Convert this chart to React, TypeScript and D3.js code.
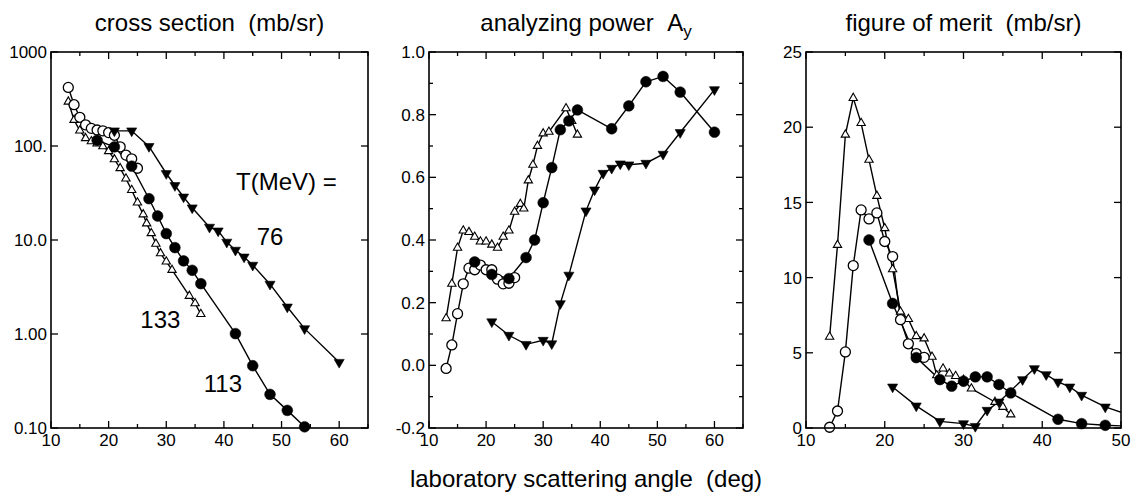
import React from 'react';
import * as d3 from 'd3';

// ---------- data ----------
// 133 MeV (open triangles)
const deg133 = [13, 14, 15, 16, 17, 18, 19, 20, 21, 22, 23, 24, 25, 26, 26.6, 27.4, 28.2, 29, 30, 31, 34, 35, 36];
const xs133 = [296, 189, 146, 121, 112, 106, 99, 88, 72, 58, 45, 34, 25, 18.7, 15, 11.8, 9.1, 7.2, 5.9, 4.8, 2.54, 2.12, 1.63];
const ay133 = [0.15, 0.26, 0.375, 0.43, 0.425, 0.41, 0.395, 0.395, 0.385, 0.375, 0.41, 0.43, 0.49, 0.515, 0.5, 0.59, 0.64, 0.7, 0.74, 0.745, 0.82, 0.78, 0.736];
const fom133 = [6.06, 12.17, 19.5, 21.94, 20.27, 17.83, 15.43, 13.28, 10.55, 7.73, 7.24, 6.1, 5.95, 4.73, 3.5, 3.95, 3.62, 3.45, 3.2, 2.62, 1.73, 1.4, 0.9];

// open circles
const degOC = [13, 14, 15, 16, 17, 18, 19, 20, 21, 22, 23, 24, 25];
const xsOC = [420, 275, 202, 168, 154, 148, 145, 139, 130, 98, 80, 73, 58];
const ayOC = [-0.01, 0.065, 0.165, 0.26, 0.31, 0.305, 0.32, 0.305, 0.305, 0.275, 0.26, 0.262, 0.28];
const fomOC = [0.05, 1.13, 5.06, 10.8, 14.5, 13.9, 14.3, 12.4, 11.4, 7.2, 5.6, 4.95, 4.7];

// 113 MeV (filled circles)
const deg113xs = [18, 21, 24, 27, 28.5, 30, 31.5, 33, 34.5, 36, 42, 45, 48, 51, 54];
const xs113 = [115, 98, 61, 27.5, 18, 11.7, 8.3, 6.0, 4.76, 3.43, 1.01, 0.46, 0.228, 0.154, 0.103];
const deg113ay = [18, 21, 24, 27, 28.5, 30, 31.5, 33, 34.5, 36, 42, 45, 48, 51, 54, 60];
const ay113 = [0.33, 0.29, 0.277, 0.344, 0.4, 0.519, 0.631, 0.752, 0.78, 0.815, 0.755, 0.828, 0.905, 0.922, 0.872, 0.744];
const deg113fom = [18, 21, 24, 27, 28.5, 30, 31.5, 33, 34.5, 36, 42, 45, 48, 51];
const fom113 = [12.5, 8.28, 4.68, 3.22, 2.78, 3.11, 3.4, 3.4, 2.89, 2.33, 0.58, 0.29, 0.18, 0.12];

// 76 MeV (filled down triangles)
const deg76 = [21, 24, 27, 30, 31.5, 33, 34.5, 37.5, 39, 40.5, 42, 43.5, 45, 48, 51, 54, 60];
const xs76 = [145, 145, 99, 51, 38, 28.7, 22, 13.7, 12.5, 9.5, 7.8, 6.6, 5.4, 3.39, 1.94, 1.14, 0.5];
const ay76 = [0.139, 0.096, 0.067, 0.08, 0.069, 0.197, 0.288, 0.493, 0.56, 0.613, 0.629, 0.643, 0.64, 0.645, 0.674, 0.743, 0.88];
const deg76fom = [21, 24, 27, 30, 31.5, 33, 34.5, 37.5, 39, 40.5, 42, 43.5, 45, 48, 51];
const fom76 = [2.73, 1.47, 0.44, 0.29, 0.11, 1.18, 1.73, 3.22, 3.95, 3.55, 3.06, 2.73, 2.18, 1.4, 0.88];

// ticks
const xTicksWide = [10, 15, 20, 25, 30, 35, 40, 45, 50, 55, 60, 65];
const xLabelsWide = [10, 20, 30, 40, 50, 60];
const xTicksFom = [10, 15, 20, 25, 30, 35, 40, 45, 50];
const xLabelsFom = [10, 20, 30, 40, 50];
const csTicks = [0.1, 1, 10, 100, 1000];
const csLabels = ['0.10', '1.00', '10.0', '100.', '1000'];
const apTicks = [-0.2, -0.1, 0, 0.1, 0.2, 0.3, 0.4, 0.5, 0.6, 0.7, 0.8, 0.9, 1.0];
const apLabelVals = [-0.2, 0, 0.2, 0.4, 0.6, 0.8, 1.0];
const apLabels = ['-0.2', '0.0', '0.2', '0.4', '0.6', '0.8', '1.0'];
const fomTicks = [0, 5, 10, 15, 20, 25];
const fomLabels = ['0', '5', '10', '15', '20', '25'];

const FONT = '"Liberation Sans", Arial, Helvetica, sans-serif';

type MarkerKind = 'tri' | 'ocirc' | 'fcirc' | 'dtri';
type Series = { x: number[]; y: number[]; marker: MarkerKind };

function Marker({ kind, cx, cy }: { kind: MarkerKind; cx: number; cy: number }) {
  if (kind === 'ocirc') return <circle cx={cx} cy={cy} r={5} fill="#fff" stroke="#000" strokeWidth={1.3} />;
  if (kind === 'fcirc') return <circle cx={cx} cy={cy} r={5.4} fill="#000" stroke="#000" strokeWidth={0.5} />;
  if (kind === 'tri') {
    const p = d3.symbol().type(d3.symbolTriangle).size(30)()!;
    return <path d={p} transform={`translate(${cx},${cy})`} fill="#fff" stroke="#000" strokeWidth={1.1} />;
  }
  const p = d3.symbol().type(d3.symbolTriangle).size(44)()!;
  return <path d={p} transform={`translate(${cx},${cy}) rotate(180)`} fill="#000" stroke="#000" strokeWidth={0.6} />;
}

type PanelProps = {
  id: string;
  left: number; right: number; top: number; bottom: number;
  xDomain: [number, number];
  xTicks: number[]; xLabels: number[];
  yScale: any;
  yTicks: number[]; yMinor?: number[];
  yLabelVals: number[]; yLabels: string[];
  series: Series[];
  title: React.ReactNode;
};

function Panel(p: PanelProps) {
  const x = d3.scaleLinear().domain(p.xDomain).range([p.left, p.right]);
  const y = p.yScale;
  const line = d3.line<[number, number]>().x(d => x(d[0])).y(d => y(d[1]));
  const tickMajor = 7, tickMinor = 4;
  const [x0, x1] = p.xDomain;
  return (
    <g>
      <defs>
        <clipPath id={p.id}>
          <rect x={p.left} y={p.top} width={p.right - p.left} height={p.bottom - p.top} />
        </clipPath>
      </defs>
      <text x={(p.left + p.right) / 2} y={31} textAnchor="middle" fontSize={24} fontFamily={FONT}>{p.title}</text>
      {p.xTicks.map(t => {
        const len = t % 10 === 0 ? tickMajor : tickMinor;
        const xx = x(t);
        return (
          <g key={'xt' + t}>
            <line x1={xx} x2={xx} y1={p.bottom} y2={p.bottom - len} stroke="#000" strokeWidth={1.3} />
            <line x1={xx} x2={xx} y1={p.top} y2={p.top + len} stroke="#000" strokeWidth={1.3} />
          </g>
        );
      })}
      {p.xLabels.map(t => (
        <text key={'xl' + t} x={x(t)} y={446} textAnchor="middle" fontSize={17} fontFamily={FONT}>{t}</text>
      ))}
      {p.yTicks.map(t => (
        <g key={'yt' + t}>
          <line x1={p.left} x2={p.left + tickMajor} y1={y(t)} y2={y(t)} stroke="#000" strokeWidth={1.3} />
          <line x1={p.right} x2={p.right - tickMajor} y1={y(t)} y2={y(t)} stroke="#000" strokeWidth={1.3} />
        </g>
      ))}
      {(p.yMinor || []).map(t => (
        <g key={'ym' + t}>
          <line x1={p.left} x2={p.left + tickMinor} y1={y(t)} y2={y(t)} stroke="#000" strokeWidth={1.3} />
          <line x1={p.right} x2={p.right - tickMinor} y1={y(t)} y2={y(t)} stroke="#000" strokeWidth={1.3} />
        </g>
      ))}
      {p.yLabelVals.map((t, i) => (
        <text key={'yl' + t} x={p.left - 4} y={y(t)} dy="0.36em" textAnchor="end" fontSize={17} fontFamily={FONT}>{p.yLabels[i]}</text>
      ))}
      <g clipPath={`url(#${p.id})`}>
        {p.series.map((s, i) => (
          <path key={'l' + i} d={line(s.x.map((v, j) => [v, s.y[j]] as [number, number])) || ''} fill="none" stroke="#000" strokeWidth={1.4} />
        ))}
      </g>
      {p.series.map((s, i) => (
        <g key={'m' + i}>
          {s.x.map((v, j) => (v >= x0 && v <= x1 ? <Marker key={j} kind={s.marker} cx={x(v)} cy={y(s.y[j])} /> : null))}
        </g>
      ))}
      <rect x={p.left} y={p.top} width={p.right - p.left} height={p.bottom - p.top} fill="none" stroke="#000" strokeWidth={1.6} />
    </g>
  );
}

export default function App() {
  const top = 52, bottom = 428;
  const csScale = d3.scaleLog().domain([0.1, 1000]).range([bottom, top]);
  const apScale = d3.scaleLinear().domain([-0.2, 1.0]).range([bottom, top]);
  const fomScale = d3.scaleLinear().domain([0, 25]).range([bottom, top]);
  const csX = d3.scaleLinear().domain([10, 65]).range([51, 368]);

  return (
    <svg width={1132} height={498} style={{ position: 'absolute', left: 0, top: 0, background: '#fff' }}>
      <rect x={0} y={0} width={1132} height={498} fill="#fff" />
      <Panel
        id="c1" left={51} right={368} top={top} bottom={bottom}
        xDomain={[10, 65]} xTicks={xTicksWide} xLabels={xLabelsWide}
        yScale={csScale} yTicks={csTicks} yLabelVals={csTicks} yLabels={csLabels}
        series={[
          { x: deg133, y: xs133, marker: 'tri' },
          { x: degOC, y: xsOC, marker: 'ocirc' },
          { x: deg113xs, y: xs113, marker: 'fcirc' },
          { x: deg76, y: xs76, marker: 'dtri' },
        ]}
        title={'cross section\u00a0\u00a0(mb/sr)'}
      />
      <Panel
        id="c2" left={429} right={743} top={top} bottom={bottom}
        xDomain={[10, 65]} xTicks={xTicksWide} xLabels={xLabelsWide}
        yScale={apScale} yTicks={apTicks.filter((_, i) => i % 2 === 0)} yMinor={apTicks.filter((_, i) => i % 2 === 1)}
        yLabelVals={apLabelVals} yLabels={apLabels}
        series={[
          { x: deg133, y: ay133, marker: 'tri' },
          { x: degOC, y: ayOC, marker: 'ocirc' },
          { x: deg113ay, y: ay113, marker: 'fcirc' },
          { x: deg76, y: ay76, marker: 'dtri' },
        ]}
        title={<>
          {'analyzing power\u00a0\u00a0A'}
          <tspan fontSize={17} dy={6}>y</tspan>
        </>}
      />
      <Panel
        id="c3" left={806} right={1121} top={top} bottom={bottom}
        xDomain={[10, 50]} xTicks={xTicksFom} xLabels={xLabelsFom}
        yScale={fomScale} yTicks={fomTicks} yLabelVals={fomTicks} yLabels={fomLabels}
        series={[
          { x: deg133, y: fom133, marker: 'tri' },
          { x: degOC, y: fomOC, marker: 'ocirc' },
          { x: deg113fom, y: fom113, marker: 'fcirc' },
          { x: deg76fom, y: fom76, marker: 'dtri' },
        ]}
        title={'figure of merit\u00a0\u00a0(mb/sr)'}
      />
      <text x={csX(42.1)} y={190} fontSize={24} fontFamily={FONT}>{'T(MeV) ='}</text>
      <text x={csX(45.7)} y={245} fontSize={24} fontFamily={FONT}>76</text>
      <text x={csX(25.5)} y={328} fontSize={24} fontFamily={FONT}>133</text>
      <text x={csX(36.5)} y={392} fontSize={24} fontFamily={FONT}>113</text>
      <text x={586} y={487} textAnchor="middle" fontSize={24} fontFamily={FONT}>{'laboratory scattering angle\u00a0\u00a0(deg)'}</text>
    </svg>
  );
}
